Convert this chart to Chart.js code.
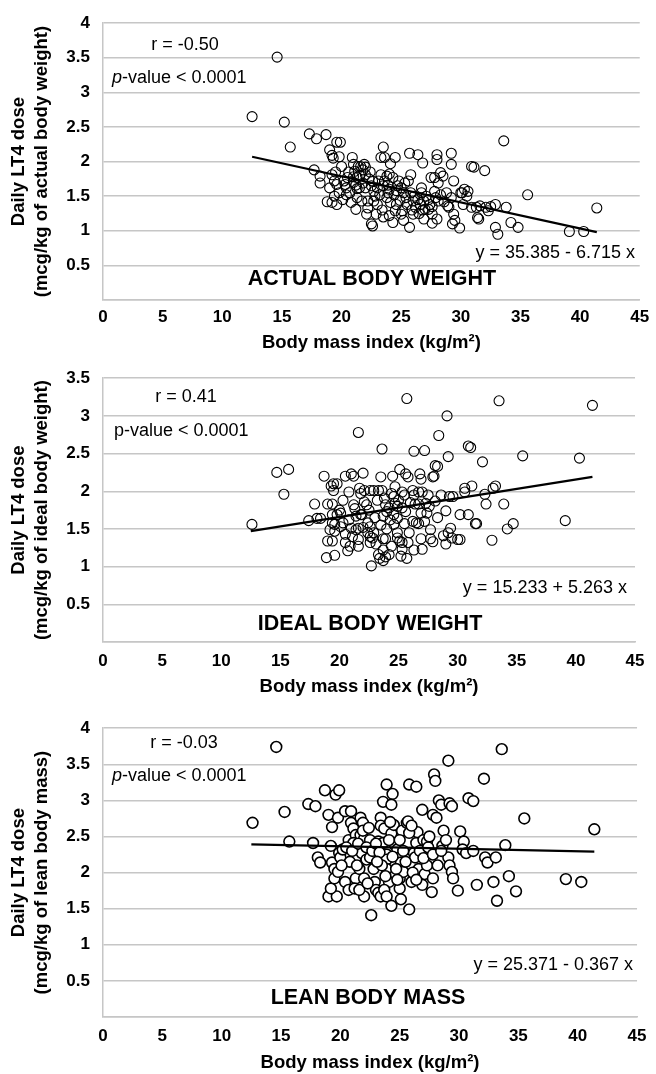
<!DOCTYPE html>
<html><head><meta charset="utf-8">
<script src="https://cdn.jsdelivr.net/npm/chart.js@4.4.1/dist/chart.umd.min.js"></script>
<style>
html,body{margin:0;padding:0;background:#fff;}
body{width:656px;height:1074px;position:relative;overflow:hidden;}
canvas{position:absolute;left:0;}
</style></head><body>
<canvas id="c1" width="656" height="355" style="top:0px"></canvas>
<canvas id="c2" width="656" height="350" style="top:355px"></canvas>
<canvas id="c3" width="656" height="369" style="top:705px"></canvas>
<script>
// ---------- DATA ----------
const xTickLabels = ['0','5','10','15','20','25','30','35','40','45'];
const yTickLabels = ['','0.5','1','1.5','2','2.5','3','3.5','4'];
const xTitle = 'Body mass index (kg/m\u00B2)';
const yTitle1 = ['Daily LT4 dose','(mcg/kg of actual body weight)'];
const yTitle2 = ['Daily LT4 dose','(mcg/kg of ideal body weight)'];
const yTitle3 = ['Daily LT4 dose','(mcg/kg of lean body mass)'];
const rText = ['r = -0.50','r = 0.41','r = -0.03'];
const pText = 'p-value < 0.0001';
const eqText = ['y = 35.385 - 6.715 x','y = 15.233 + 5.263 x','y = 25.371 - 0.367 x'];
const panelLabels = ['ACTUAL BODY WEIGHT','IDEAL BODY WEIGHT','LEAN BODY MASS'];

const trendX = [12.5, 41.4];
const trend1 = [2.07, 0.98];
const trend2 = [1.47, 2.19];
const trend3 = [2.39, 2.29];

const bmi1 = [14.6,12.5,15.2,15.7,17.3,17.9,18.7,19.6,19.9,19.0,
19.2,19.3,19.8,17.7,18.2,18.2,19.2,19.4,19.6,18.8,
19.2,19.6,19.4,19.8,20.0,20.9,21.0,21.4,21.6,21.9,
21.1,20.3,20.5,21.3,20.7,20.8,21.2,21.5,21.3,21.8,
22.0,22.2,21.7,22.1,22.6,22.6,23.1,23.3,22.7,22.7,
22.9,23.5,23.3,23.6,24.1,24.5,23.6,23.8,24.3,24.7,
23.9,23.8,24.1,24.5,24.0,23.5,24.3,24.9,25.0,25.1,
25.2,25.3,25.2,25.7,25.8,25.6,25.7,26.0,26.2,26.0,
26.4,26.8,26.7,26.7,26.9,27.0,27.3,27.4,26.9,27.8,
27.8,28.0,28.0,28.1,28.3,28.5,27.6,28.0,28.1,28.8,
29.2,29.2,29.4,29.2,29.0,29.4,29.5,29.9,30.1,30.6,
30.2,30.9,31.3,30.9,31.1,32.0,31.5,32.3,32.9,33.8,
32.9,33.1,33.6,34.2,34.8,35.6,39.1,40.3,41.4,
27.5,30.3,30.0,32.1,31.4,29.3,28.9,27.6,22.5,
20.2,20.4,20.6,21.0,21.2,21.5,21.8,22.0,22.3,22.5,
22.8,23.0,23.2,23.5,23.9,24.0,24.4,24.6,24.8,25.0,
25.4,25.5,25.8,26.1,26.4,26.6,27.1,27.3,27.6,27.9,
28.3,28.6,20.1,19.0,19.5,20.4,21.0,22.4,22.0,21.3,
24.0,23.0,22.2,23.4,24.6,25.9,26.5,26.8,30.5,31.6,32.5];
const dose1 = [3.51,2.65,2.57,2.21,2.40,2.33,2.39,2.28,2.28,2.17,
2.09,2.05,2.07,1.88,1.79,1.69,1.81,1.72,1.67,1.42,
1.41,1.38,1.50,1.55,1.93,2.06,1.96,1.93,1.93,1.96,
1.86,1.67,1.77,1.77,1.55,1.41,1.31,1.62,1.61,1.69,
1.81,1.43,1.43,1.24,1.07,1.72,1.72,1.81,1.57,1.43,
1.24,2.21,2.06,2.06,1.97,2.06,1.72,1.79,1.77,1.65,
1.55,1.48,1.41,1.29,1.22,1.20,1.12,1.44,1.24,1.29,
1.55,1.69,1.15,2.12,1.81,1.72,1.05,1.43,1.34,1.24,
2.10,1.98,1.62,1.55,1.43,1.31,1.31,1.38,1.17,1.77,
1.57,2.10,2.03,1.69,1.84,1.79,1.11,1.17,1.43,1.55,
2.12,1.96,1.72,1.48,1.34,1.24,1.15,1.04,1.55,1.57,
1.38,1.34,1.34,1.93,1.92,1.87,1.17,1.29,1.38,1.34,
1.05,0.95,2.30,1.12,1.05,1.52,0.99,0.99,1.33,
1.77,1.60,1.55,1.34,1.19,1.10,1.36,1.24,1.10,
1.72,1.62,1.85,1.70,1.66,1.80,1.88,1.62,1.75,1.65,
1.50,1.62,1.52,1.65,1.66,1.60,1.52,1.58,1.72,1.62,
1.48,1.38,1.55,1.50,1.45,1.38,1.50,1.45,1.35,1.48,
1.52,1.42,1.45,1.62,1.85,1.52,1.78,1.85,1.92,1.48,
1.82,1.38,1.33,1.30,1.38,1.30,1.25,1.30,1.50,1.36,1.35];

const bmi2 = [12.6,14.7,15.7,15.3,17.4,17.9,18.1,18.4,18.7,19.0,
19.4,19.0,19.4,18.9,19.6,19.3,19.5,19.8,19.5,19.4,
19.8,19.4,19.6,19.2,19.6,20.0,20.1,20.3,20.1,20.5,
20.5,20.9,20.7,20.5,21.0,21.2,22.0,21.6,20.8,21.2,
21.3,21.7,21.8,21.4,21.8,21.0,21.4,21.6,21.6,21.6,
22.1,22.6,22.9,23.3,23.6,22.1,22.3,21.9,22.4,22.6,
22.4,22.6,22.9,22.6,22.8,23.3,23.4,23.7,23.9,22.7,
23.5,23.6,23.8,23.9,24.0,24.2,23.7,23.7,23.9,23.7,
24.2,24.4,24.6,24.7,24.7,24.9,24.6,24.9,24.6,24.9,
24.9,25.1,25.3,25.2,25.3,25.7,25.1,25.7,25.6,25.8,
25.3,25.5,25.3,25.6,25.5,26.2,26.3,26.3,27.2,26.8,
26.9,26.7,27.0,26.4,26.7,26.2,26.5,26.7,26.9,26.9,
26.3,27.0,27.4,27.3,27.7,27.9,27.6,27.9,28.0,28.1,
28.3,28.4,27.7,28.1,28.6,29.1,29.2,29.0,29.0,28.8,
29.2,29.4,29.3,29.6,29.5,30.0,30.2,30.2,30.6,30.6,
30.9,31.1,31.2,30.9,31.5,31.6,32.1,32.3,32.4,32.9,
33.0,33.2,33.5,33.9,34.2,34.7,35.5,39.1,40.3,41.4,
20.3,20.8,21.1,22.0,22.5,23.0,23.2,23.5,24.0,24.3,
25.0,25.9,26.0,27.2,27.5,28.3,24.4,23.1,25.8,24.5];
const dose2 = [1.56,2.25,2.29,1.96,1.61,1.83,1.64,1.64,2.20,1.83,
1.83,1.34,1.34,1.12,1.15,2.07,2.10,2.10,2.01,1.69,
1.69,1.58,1.56,1.49,1.47,1.75,1.71,1.58,1.53,1.43,
1.32,1.27,1.21,2.20,2.23,2.20,2.24,2.78,1.99,1.82,
1.77,2.04,1.97,1.67,1.69,1.51,1.49,1.51,1.36,1.27,
2.01,2.01,2.01,2.01,2.01,1.86,1.82,1.69,1.58,1.53,
1.45,1.40,1.45,1.32,1.38,1.16,1.11,1.08,1.13,1.01,
2.19,2.56,1.91,1.82,1.73,1.78,1.67,1.37,1.37,1.22,
1.16,1.97,1.93,2.06,1.84,1.80,1.69,1.64,1.56,1.45,
1.38,1.34,1.32,1.14,1.23,1.11,2.29,3.23,2.23,2.19,
1.99,1.95,1.78,1.73,1.57,2.01,1.95,2.53,2.54,2.23,
2.16,1.99,1.99,1.83,1.83,1.60,1.58,1.57,1.71,1.37,
1.22,1.23,1.71,1.84,1.37,1.33,1.80,2.19,2.20,2.34,
2.33,2.74,1.49,1.87,1.95,3.00,2.46,1.74,1.30,1.41,
1.45,1.51,1.93,1.93,1.38,1.36,1.36,1.69,2.04,1.99,
2.60,2.58,2.07,1.69,1.57,1.57,2.39,1.96,1.83,1.35,
2.04,2.07,3.20,1.83,1.50,1.57,2.47,1.61,2.44,3.14,
1.88,1.62,1.40,1.52,1.75,1.65,1.88,1.55,1.50,1.62,
1.88,1.45,1.85,1.60,1.95,1.65,1.27,1.30,1.32,2.20];

const bmi3 = [12.6,14.6,15.3,15.7,17.3,17.9,17.7,18.7,19.6,19.9,
19.0,19.3,19.8,20.4,20.9,18.1,18.3,19.2,19.3,19.5,
19.9,20.0,19.0,19.7,19.2,19.5,19.8,20.2,20.4,20.7,
20.7,20.9,21.1,21.3,21.1,21.3,21.3,21.2,21.7,21.9,
21.7,22.0,21.6,22.0,21.8,22.2,22.0,22.0,21.6,22.6,
22.5,22.5,22.8,22.9,23.0,23.2,23.4,23.4,23.6,23.4,
23.7,23.2,23.6,23.9,24.4,24.3,24.3,24.5,23.9,23.9,
23.9,24.1,23.7,23.9,24.3,24.6,24.8,25.0,25.1,25.0,
25.0,25.1,25.3,25.2,25.6,25.7,25.8,26.4,25.8,26.0,
26.2,26.3,26.4,26.5,26.6,26.9,27.0,27.3,26.9,27.1,
27.3,27.6,27.9,28.0,27.8,28.1,28.3,28.5,27.8,27.7,
28.6,28.7,28.9,29.1,29.2,29.4,29.1,29.2,29.4,29.5,
29.9,30.1,30.4,30.3,30.6,30.8,31.2,31.2,31.5,32.1,
32.2,32.4,32.9,33.1,33.2,33.6,33.9,34.2,34.8,35.5,
39.0,40.3,41.4,
20.5,20.8,21.0,21.5,21.9,22.2,22.4,22.7,23.0,23.3,
23.5,23.8,24.1,24.4,24.7,25.0,25.3,25.5,25.8,26.1,
26.4,26.7,27.0,27.4,27.8,28.2,28.5,24.2,22.3,21.4,
20.1,24.8,23.1,26.0,27.5];
const dose3 = [2.69,3.74,2.84,2.43,2.95,2.92,2.41,3.14,3.08,3.14,
2.80,2.63,2.76,2.85,2.85,2.21,2.14,2.37,2.14,2.05,
2.27,2.21,1.67,1.67,1.78,1.92,2.01,2.32,1.87,1.76,
2.45,2.69,2.61,2.52,2.41,2.21,1.92,1.78,2.76,2.69,
2.52,2.47,2.05,2.32,2.27,2.18,1.92,1.67,1.76,1.41,
2.45,2.21,2.05,1.87,1.76,1.72,1.67,2.76,2.98,2.65,
2.61,2.43,2.41,3.22,3.09,2.94,2.54,2.66,2.25,2.18,
2.05,1.87,1.76,1.67,1.54,2.38,2.32,2.21,2.14,1.92,
1.78,1.63,2.01,2.58,2.69,2.71,3.22,3.19,1.49,1.87,
2.27,2.21,2.41,2.56,2.05,2.87,2.45,2.43,1.83,1.98,
2.10,2.27,3.36,3.27,2.80,2.76,3.00,2.94,1.92,1.73,
2.37,2.58,2.45,3.55,2.96,2.92,2.21,2.10,2.01,1.92,
1.75,2.57,2.43,2.32,2.27,3.03,2.99,2.30,1.83,3.30,
2.21,2.14,1.87,2.21,1.61,3.71,2.38,1.95,1.74,2.75,
1.91,1.87,2.60,
2.35,2.15,2.30,2.40,2.58,2.35,2.62,2.30,2.40,2.28,
2.10,1.95,2.45,2.22,2.05,2.45,2.30,2.15,2.55,2.00,
1.90,2.30,2.20,2.35,2.25,2.10,2.30,2.70,1.85,2.10,
2.10,1.90,2.15,2.65,2.50];

// ---------- RENDERING ----------
const FAMILY = "'Liberation Sans', Arial, sans-serif";

function pts(xs, ys){ const n=Math.min(xs.length,ys.length); const a=[]; for(let i=0;i<n;i++) a.push({x:xs[i],y:ys[i]}); return a; }

const notesPlugin = {
  id: 'notes',
  afterDraw(chart, args, o) {
    const ctx = chart.ctx;
    ctx.save();
    ctx.fillStyle = '#000';
    ctx.textBaseline = 'middle';
    const reg = '18px ' + FAMILY;
    ctx.font = reg; ctx.textAlign = 'center';
    ctx.fillText(o.r, o.rPos[0], o.rPos[1]);
    ctx.textAlign = 'left';
    let x = o.pPos[0];
    if (o.italicP) {
      ctx.font = 'italic ' + reg;
      ctx.fillText('p', x, o.pPos[1]);
      x += ctx.measureText('p').width;
      ctx.font = reg;
      ctx.fillText(o.p.slice(1), x, o.pPos[1]);
    } else {
      ctx.font = reg;
      ctx.fillText(o.p, x, o.pPos[1]);
    }
    ctx.textAlign = 'right';
    ctx.fillText(o.eq, o.eqPos[0], o.eqPos[1]);
    ctx.font = 'bold 21.5px ' + FAMILY;
    ctx.textAlign = 'center';
    ctx.fillText(o.label, o.labelPos[0], o.labelPos[1]);
    ctx.restore();
  }
};

function makeChart(id, p) {
  const canvas = document.getElementById(id);
  const H = canvas.height;
  const titleFont = {family: FAMILY, size: 18.5, weight: 'bold', lineHeight: 1.2};
  const tickFont = {family: FAMILY, size: 17, weight: 'bold', lineHeight: 1.2};
  const titleLH = 18.5 * 1.2, tickLH = 17 * 1.2;
  const xH = p.titleY - p.bottom + titleLH / 2;
  const padBottom = H - p.bottom - xH;
  const tickPad = p.tickY - p.bottom - tickLH / 2;
  const ytf = {family: FAMILY, size: 18.5, weight: 'bold', lineHeight: 1.25};
  const ytPad = 19 - 18.5 * 1.25 / 2;
  return new Chart(canvas, {
    type: 'scatter',
    data: {
      datasets: [
        {data: pts(trendX, p.trend), showLine: true, pointRadius: 0, borderColor: '#000', borderWidth: 2.2, order: 0},
        {data: pts(p.xs, p.ys), pointRadius: p.radius, pointHoverRadius: p.radius, pointBorderWidth: p.bw,
         borderColor: '#000', backgroundColor: p.fill, pointBackgroundColor: p.fill, pointBorderColor: '#000', order: 1}
      ]
    },
    options: {
      responsive: false, animation: false, events: [],
      layout: {autoPadding: false, padding: {left: 0, top: p.top, right: 656 - p.right, bottom: padBottom}},
      plugins: {legend: {display: false}, tooltip: {enabled: false},
        notes: {r: p.r, p: pText, italicP: p.italicP, eq: p.eq, label: p.label,
                rPos: p.rPos, pPos: p.pPos, eqPos: p.eqPos, labelPos: p.labelPos}},
      scales: {
        x: {
          type: 'linear', min: 0, max: 45,
          afterFit: (s) => { s.height = xH; },
          grid: {display: false, drawTicks: false},
          border: {display: true, color: '#c6c6c6', width: 1.5},
          ticks: {stepSize: 5, padding: tickPad, color: '#000', font: tickFont, maxRotation: 0,
                  callback: (v) => xTickLabels[Math.round(v / 5)]},
          title: {display: true, text: xTitle, color: '#000', font: titleFont, padding: {top: 0, bottom: 0}}
        },
        y: {
          type: 'linear', min: 0, max: p.yMax,
          afterFit: (s) => { s.width = 103; },
          grid: {display: true, drawTicks: false, color: '#c6c6c6', lineWidth: 1.5},
          border: {display: true, color: '#c6c6c6', width: 1.5},
          ticks: {stepSize: 0.5, padding: 13, color: '#000', font: tickFont,
                  callback: (v) => yTickLabels[Math.round(v / 0.5)]},
          title: {display: true, text: p.yTitle, color: '#000', font: ytf, padding: {top: ytPad, bottom: 0}}
        }
      }
    },
    plugins: [notesPlugin]
  });
}

makeChart('c1', {xs: bmi1, ys: dose1, trend: trend1, yMax: 4, yTitle: yTitle1,
  top: 20.7, bottom: 300, right: 642, tickY: 317, titleY: 343,
  radius: 5, bw: 1.1, fill: 'rgba(255,255,255,0)',
  r: rText[0], italicP: true, eq: eqText[0], label: panelLabels[0],
  rPos: [185, 45], pPos: [112, 78], eqPos: [635, 253], labelPos: [372, 279]});

makeChart('c2', {xs: bmi2, ys: dose2, trend: trend2, yMax: 3.5, yTitle: yTitle2,
  top: 19.7, bottom: 287, right: 635, tickY: 306.7, titleY: 331.7,
  radius: 5, bw: 1.1, fill: 'rgba(255,255,255,0)',
  r: rText[1], italicP: false, eq: eqText[1], label: panelLabels[1],
  rPos: [186, 42.3], pPos: [114, 75.7], eqPos: [627, 233], labelPos: [370, 269]});

makeChart('c3', {xs: bmi3, ys: dose3, trend: trend3, yMax: 4, yTitle: yTitle3,
  top: 11.4, bottom: 312, right: 638, tickY: 331.7, titleY: 358,
  radius: 5.4, bw: 1.6, fill: '#ffffff',
  r: rText[2], italicP: true, eq: eqText[2], label: panelLabels[2],
  rPos: [184, 37.7], pPos: [112, 71], eqPos: [633, 260], labelPos: [368, 292.7]});
</script>
</body></html>
